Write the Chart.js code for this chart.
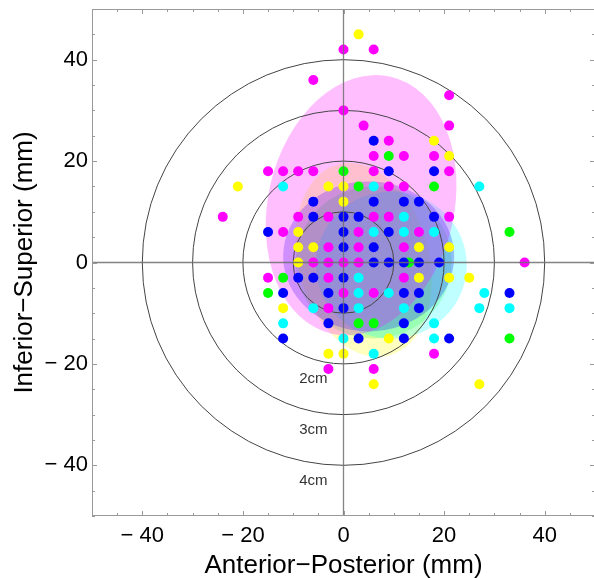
<!DOCTYPE html>
<html>
<head>
<meta charset="utf-8">
<script src="https://cdn.jsdelivr.net/npm/chart.js@4"></script>
<style>
  html, body { margin: 0; padding: 0; background: #fff; overflow: hidden; }
  #wrap { width: 600px; height: 578px; }
</style>
</head>
<body>
<div id="wrap"><canvas id="scatterChart" width="600" height="578"></canvas></div>
<script>
const FONT = '"Liberation Sans", Arial, sans-serif';

// axis setup
const axisMin = -50;
const axisMax = 50;
const tickValues = [-40, -20, 0, 20, 40];
const xTitle = 'Anterior\u2212Posterior (mm)';
const yTitle = 'Inferior\u2212Superior (mm)';

// reference rings (mm) and their labels
const ringRadii = [10, 20, 30, 40];
const ringLabels = ['', '2cm', '3cm', '4cm'];

// measured points [x, y] in mm, one list per colour
const magentaPoints = [
  [0, 42], [6, 42], [-6, 36], [21, 33], [0, 30], [4, 27], [21, 27], [9, 24],
  [6, 21], [12, 21], [18, 21], [-15, 18], [-12, 18], [-9, 18], [-6, 18], [6, 18], [21, 18],
  [9, 15], [12, 15], [-24, 9], [-9, 9], [-3, 9], [6, 9], [9, 9], [21, 9],
  [-12, 6], [3, 6], [15, 6], [-3, 3], [3, 3], [12, 3],
  [-6, 0], [-3, 0], [0, 0], [3, 0], [36, 0], [-15, -3], [-3, -3], [12, -3],
  [0, -6], [6, -6], [-3, -9], [18, -18], [-3, -21], [6, -21]
];
const yellowPoints = [
  [3, 45], [18, 24], [21, 21], [-21, 15], [-3, 15], [0, 15], [0, 12], [-9, 6],
  [-9, 3], [-6, 3], [15, 3], [21, 3], [-9, 0], [15, -3], [21, -3], [25, -3],
  [-12, -9], [9, -15], [-3, -18], [0, -18], [6, -24], [27, -24]
];
const cyanPoints = [
  [-12, 15], [6, 15], [27, 15], [12, 9], [6, 6], [12, 6], [18, 6], [3, -3],
  [3, -6], [9, -6], [28, -6], [-6, -9], [3, -9], [12, -9], [27, -9], [33, -9],
  [-12, -12], [18, -12], [0, -15], [18, -15], [6, -18]
];
const bluePoints = [
  [6, 24], [9, 18], [18, 18], [-6, 12], [6, 12], [12, 12], [15, 12],
  [-6, 9], [0, 9], [3, 9], [18, 9], [-15, 6], [0, 6], [9, 6], [0, 3], [6, 3],
  [6, 0], [9, 0], [12, 0], [15, 0], [19, 0], [-9, -3], [-6, -3], [0, -3],
  [-12, -6], [-3, -6], [12, -6], [15, -6], [33, -6], [0, -9], [15, -9],
  [-3, -12], [12, -12], [-12, -15], [3, -15], [12, -15], [21, -15]
];
const greenPoints = [
  [9, 21], [0, 18], [3, 15], [18, 15], [33, 6], [13, 0], [-12, -3], [-15, -6],
  [3, -12], [6, -12], [33, -15]
];

// spread ellipses (mm), in drawing order
const ellipseColors = ['255,255,0', '0,255,0', '0,255,255', '0,0,255', '255,0,255'];
const ellipseAlpha = [0.25, 0.2, 0.25, 0.25, 0.25];
const ellipseCenterX = [4, 6, 9.5, 5, 3.5];
const ellipseCenterY = [0.5, 0, -0.5, 1.2, 11.3];
const ellipseRadiusX = [13, 15.5, 15, 17, 18.5];
const ellipseRadiusY = [19.5, 15, 14.5, 14.8, 26];
const ellipseTilt = [-15, 0, 0, 0, 13]; // degrees, clockwise

const toXY = pts => pts.map(p => ({ x: p[0], y: p[1] }));

function formatTick(value) {
  return value < 0 ? '\u2212 ' + Math.abs(value) : String(value);
}

// keep the plot box where it is, labels may overhang
function fixBox(scale, size) {
  if (scale.isHorizontal()) scale.height = size;
  else scale.width = size;
  scale.paddingTop = 0;
  scale.paddingBottom = 0;
  scale.paddingLeft = 0;
  scale.paddingRight = 0;
}

const targetPlugin = {
  id: 'target',
  beforeDatasetsDraw(chart) {
    const { ctx, chartArea, scales: { x, y } } = chart;
    ctx.save();
    ctx.beginPath();
    ctx.rect(chartArea.left, chartArea.top, chartArea.width, chartArea.height);
    ctx.clip();

    ellipseCenterX.forEach((cx, i) => {
      const px = x.getPixelForValue(cx);
      const py = y.getPixelForValue(ellipseCenterY[i]);
      const rx = x.getPixelForValue(cx + ellipseRadiusX[i]) - px;
      const ry = py - y.getPixelForValue(ellipseCenterY[i] + ellipseRadiusY[i]);
      ctx.fillStyle = `rgba(${ellipseColors[i]},${ellipseAlpha[i]})`;
      ctx.beginPath();
      ctx.ellipse(px, py, rx, ry, ellipseTilt[i] * Math.PI / 180, 0, 2 * Math.PI);
      ctx.fill();
    });

    const ox = x.getPixelForValue(0);
    const oy = y.getPixelForValue(0);
    ctx.strokeStyle = '#444';
    ctx.lineWidth = 1;
    ringRadii.forEach(r => {
      const rx = x.getPixelForValue(r) - ox;
      const ry = oy - y.getPixelForValue(r);
      ctx.beginPath();
      ctx.ellipse(ox, oy, rx, ry, 0, 0, 2 * Math.PI);
      ctx.stroke();
    });

    ctx.fillStyle = '#333';
    ctx.font = '15px ' + FONT;
    ctx.textAlign = 'center';
    ctx.textBaseline = 'middle';
    ringRadii.forEach((r, i) => {
      if (!ringLabels[i]) return;
      ctx.fillText(ringLabels[i], x.getPixelForValue(-6), y.getPixelForValue(-(r + 3)));
    });
    ctx.restore();
  },
  afterDatasetsDraw(chart) {
    const { ctx, chartArea, scales: { x, y } } = chart;
    const { left, right, top, bottom } = chartArea;
    ctx.save();

    // zero lines
    ctx.strokeStyle = 'rgba(110,110,110,0.85)';
    ctx.lineWidth = 1.3;
    const ox = x.getPixelForValue(0);
    const oy = y.getPixelForValue(0);
    ctx.beginPath();
    ctx.moveTo(ox, top); ctx.lineTo(ox, bottom);
    ctx.moveTo(left, oy); ctx.lineTo(right, oy);
    ctx.stroke();

    // frame
    ctx.strokeStyle = '#999';
    ctx.lineWidth = 1;
    ctx.strokeRect(left + 0.5, top + 0.5, right - left - 1, bottom - top - 1);

    // inward ticks every 5 mm
    ctx.beginPath();
    for (let v = axisMin; v <= axisMax; v += 5) {
      const len = v % 20 === 0 ? 5 : 3;
      const px = Math.round(x.getPixelForValue(v)) + 0.5;
      const py = Math.round(y.getPixelForValue(v)) + 0.5;
      ctx.moveTo(px, bottom); ctx.lineTo(px, bottom - len);
      ctx.moveTo(px, top); ctx.lineTo(px, top + len);
      ctx.moveTo(left, py); ctx.lineTo(left + len, py);
      ctx.moveTo(right, py); ctx.lineTo(right - len, py);
    }
    ctx.stroke();
    ctx.restore();
  }
};

const pointStyle = color => ({
  backgroundColor: color,
  borderWidth: 0,
  pointRadius: 5,
  pointHoverRadius: 5
});

const ctx = document.getElementById('scatterChart').getContext('2d');
const chartInstance = new Chart(ctx, {
  type: 'scatter',
  data: {
    datasets: [
      { label: 'blue', data: toXY(bluePoints), ...pointStyle('#0000ff') },
      { label: 'green', data: toXY(greenPoints), ...pointStyle('#00ff00') },
      { label: 'cyan', data: toXY(cyanPoints), ...pointStyle('#00ffff') },
      { label: 'yellow', data: toXY(yellowPoints), ...pointStyle('#ffff00') },
      { label: 'magenta', data: toXY(magentaPoints), ...pointStyle('#ff00ff') }
    ]
  },
  options: {
    responsive: false,
    animation: false,
    layout: { padding: { top: 9, right: 1, left: 0, bottom: 0 } },
    plugins: {
      legend: { display: false },
      tooltip: { enabled: false }
    },
    scales: {
      x: {
        type: 'linear',
        min: axisMin,
        max: axisMax,
        grid: { display: false, drawTicks: false },
        border: { display: false },
        afterBuildTicks: s => { s.ticks = tickValues.map(v => ({ value: v })); },
        afterFit: s => fixBox(s, 62),
        ticks: {
          padding: 7,
          autoSkip: false,
          maxRotation: 0,
          color: '#000',
          font: { family: FONT, size: 22 },
          callback: formatTick
        },
        title: {
          display: true,
          text: xTitle,
          color: '#000',
          font: { family: FONT, size: 26, lineHeight: 0.95 },
          padding: { top: 0, bottom: 0 }
        }
      },
      y: {
        type: 'linear',
        min: axisMin,
        max: axisMax,
        grid: { display: false, drawTicks: false },
        border: { display: false },
        afterBuildTicks: s => { s.ticks = tickValues.map(v => ({ value: v })); },
        afterFit: s => fixBox(s, 92),
        ticks: {
          padding: 4,
          autoSkip: false,
          color: '#000',
          font: { family: FONT, size: 22 },
          callback: formatTick
        },
        title: {
          display: true,
          text: yTitle,
          color: '#000',
          font: { family: FONT, size: 26, lineHeight: 0.95 },
          padding: { top: 12, bottom: 0 }
        }
      }
    }
  },
  plugins: [targetPlugin]
});
</script>
</body>
</html>
